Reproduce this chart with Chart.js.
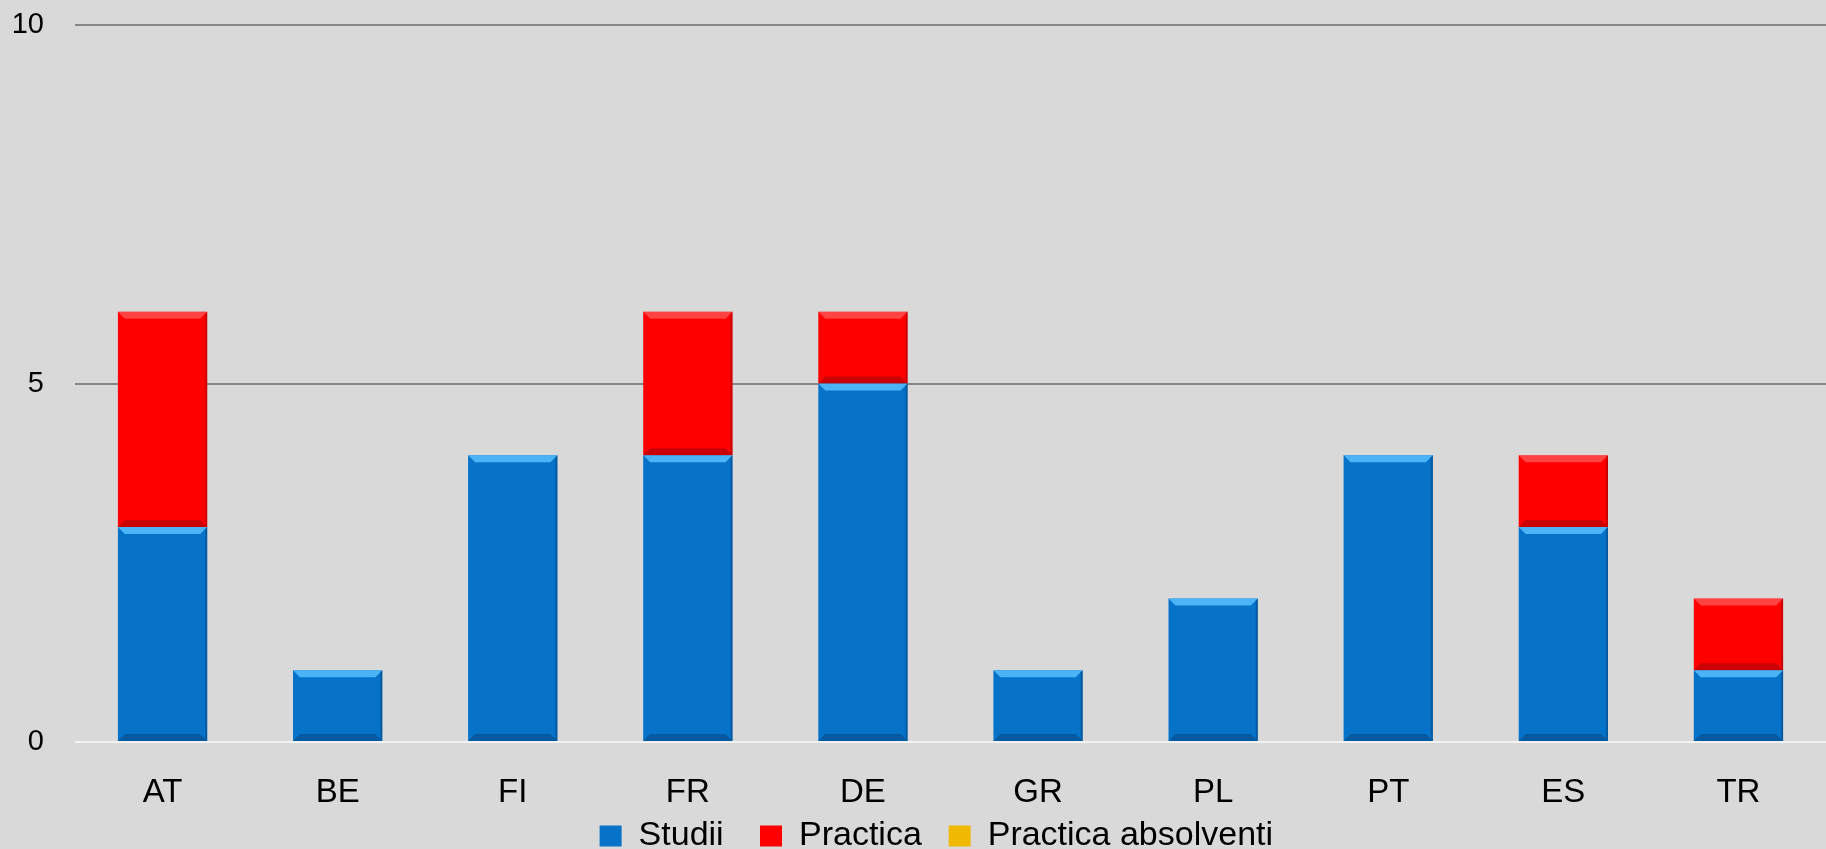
<!DOCTYPE html>
<html>
<head>
<meta charset="utf-8">
<script src="https://cdn.jsdelivr.net/npm/chart.js@4/dist/chart.umd.min.js"></script>
<style>
    html, body { margin: 0; padding: 0; background: #d9d9d9; }
    #wrap { width: 1826px; height: 849px; position: relative; }
</style>
</head>
<body>
<div id="wrap"><canvas id="barChart"></canvas></div>
<script>
// date din grafic
const countries = ['AT', 'BE', 'FI', 'FR', 'DE', 'GR', 'PL', 'PT', 'ES', 'TR'];
const studii = [3, 1, 4, 4, 5, 1, 2, 4, 3, 1];
const practica = [3, 0, 0, 2, 1, 0, 0, 0, 1, 1];
const practicaAbsolventi = [0, 0, 0, 0, 0, 0, 0, 0, 0, 0];
const yTicks = [0, 5, 10];

const FONT = "'Liberation Sans', sans-serif";
// spatii dupa textul din legenda (distanta intre elemente)
const legendGaps = ['   ', '  ', '   '];

// efect de relief pe bare (ca in Excel)
const bevelPlugin = {
    id: 'bevel',
    afterDatasetsDraw(chart) {
        const ctx = chart.ctx;
        chart.data.datasets.forEach((ds, i) => {
            const meta = chart.getDatasetMeta(i);
            if (meta.hidden) return;
            meta.data.forEach(bar => {
                const p = bar.getProps(['x', 'y', 'base', 'width'], true);
                const h = Math.abs(p.base - p.y);
                if (h < 1) return;
                const l = p.x - p.width / 2, r = p.x + p.width / 2;
                const t = Math.min(p.y, p.base), b = Math.max(p.y, p.base);
                const s = Math.min(7, h / 3);
                ctx.save();
                // sus - deschis
                ctx.fillStyle = ds.bevelLight;
                ctx.beginPath();
                ctx.moveTo(l, t); ctx.lineTo(r, t); ctx.lineTo(r - s, t + s); ctx.lineTo(l + s, t + s);
                ctx.closePath(); ctx.fill();
                // jos - inchis
                ctx.fillStyle = ds.bevelDark;
                ctx.beginPath();
                ctx.moveTo(l, b); ctx.lineTo(r, b); ctx.lineTo(r - s, b - s); ctx.lineTo(l + s, b - s);
                ctx.closePath(); ctx.fill();
                // dreapta
                ctx.beginPath();
                ctx.moveTo(r, t); ctx.lineTo(r, b); ctx.lineTo(r - 2, b - 2); ctx.lineTo(r - 2, t + 2);
                ctx.closePath(); ctx.fill();
                ctx.restore();
            });
        });
    }
};

const ctx = document.getElementById('barChart').getContext('2d');
new Chart(ctx, {
    type: 'bar',
    data: {
        labels: countries,
        datasets: [
            {
                label: 'Studii',
                data: studii,
                backgroundColor: '#0673c8',
                bevelLight: 'rgba(90, 190, 255, 0.85)',
                bevelDark: 'rgba(0, 60, 110, 0.45)',
                borderWidth: 0
            },
            {
                label: 'Practica',
                data: practica,
                backgroundColor: '#ff0000',
                bevelLight: 'rgba(255, 110, 110, 0.6)',
                bevelDark: 'rgba(140, 0, 0, 0.45)',
                borderWidth: 0
            },
            {
                label: 'Practica absolventi',
                data: practicaAbsolventi,
                backgroundColor: '#f0b800',
                bevelLight: 'rgba(255, 230, 120, 0.7)',
                bevelDark: 'rgba(140, 100, 0, 0.45)',
                borderWidth: 0
            }
        ]
    },
    options: {
        responsive: true,
        maintainAspectRatio: false,
        animation: false,
        categoryPercentage: 1,
        barPercentage: 0.51,
        layout: { padding: { top: 25, right: 0, left: 0, bottom: -14 } },
        plugins: {
            legend: {
                position: 'bottom',
                fullSize: false,
                labels: {
                    color: '#000',
                    boxWidth: 22,
                    boxHeight: 21,
                    padding: 8,
                    font: { family: FONT, size: 34 },
                    generateLabels: chart => Chart.defaults.plugins.legend.labels.generateLabels(chart)
                        .map((item, i) => ({ ...item, text: item.text + legendGaps[i] }))
                }
            },
            tooltip: { enabled: false }
        },
        scales: {
            x: {
                stacked: true,
                afterFit: axis => { axis.height = 69; },
                grid: { display: false, drawTicks: false },
                border: { display: false },
                ticks: { color: '#000', padding: 31, font: { family: FONT, size: 33 } }
            },
            y: {
                stacked: true,
                min: 0,
                max: 10,
                afterFit: axis => { axis.width = 75; axis.paddingTop = 0; axis.paddingBottom = 0; },
                afterBuildTicks: axis => { axis.ticks = yTicks.map(v => ({ value: v })); },
                border: { display: false },
                grid: {
                    drawTicks: false,
                    lineWidth: 2,
                    color: c => c.tick && c.tick.value === 0 ? '#f2f2f2' : '#878787'
                },
                ticks: { color: '#000', padding: 31, font: { family: FONT, size: 29 } }
            }
        }
    },
    plugins: [bevelPlugin]
});
</script>
</body>
</html>
